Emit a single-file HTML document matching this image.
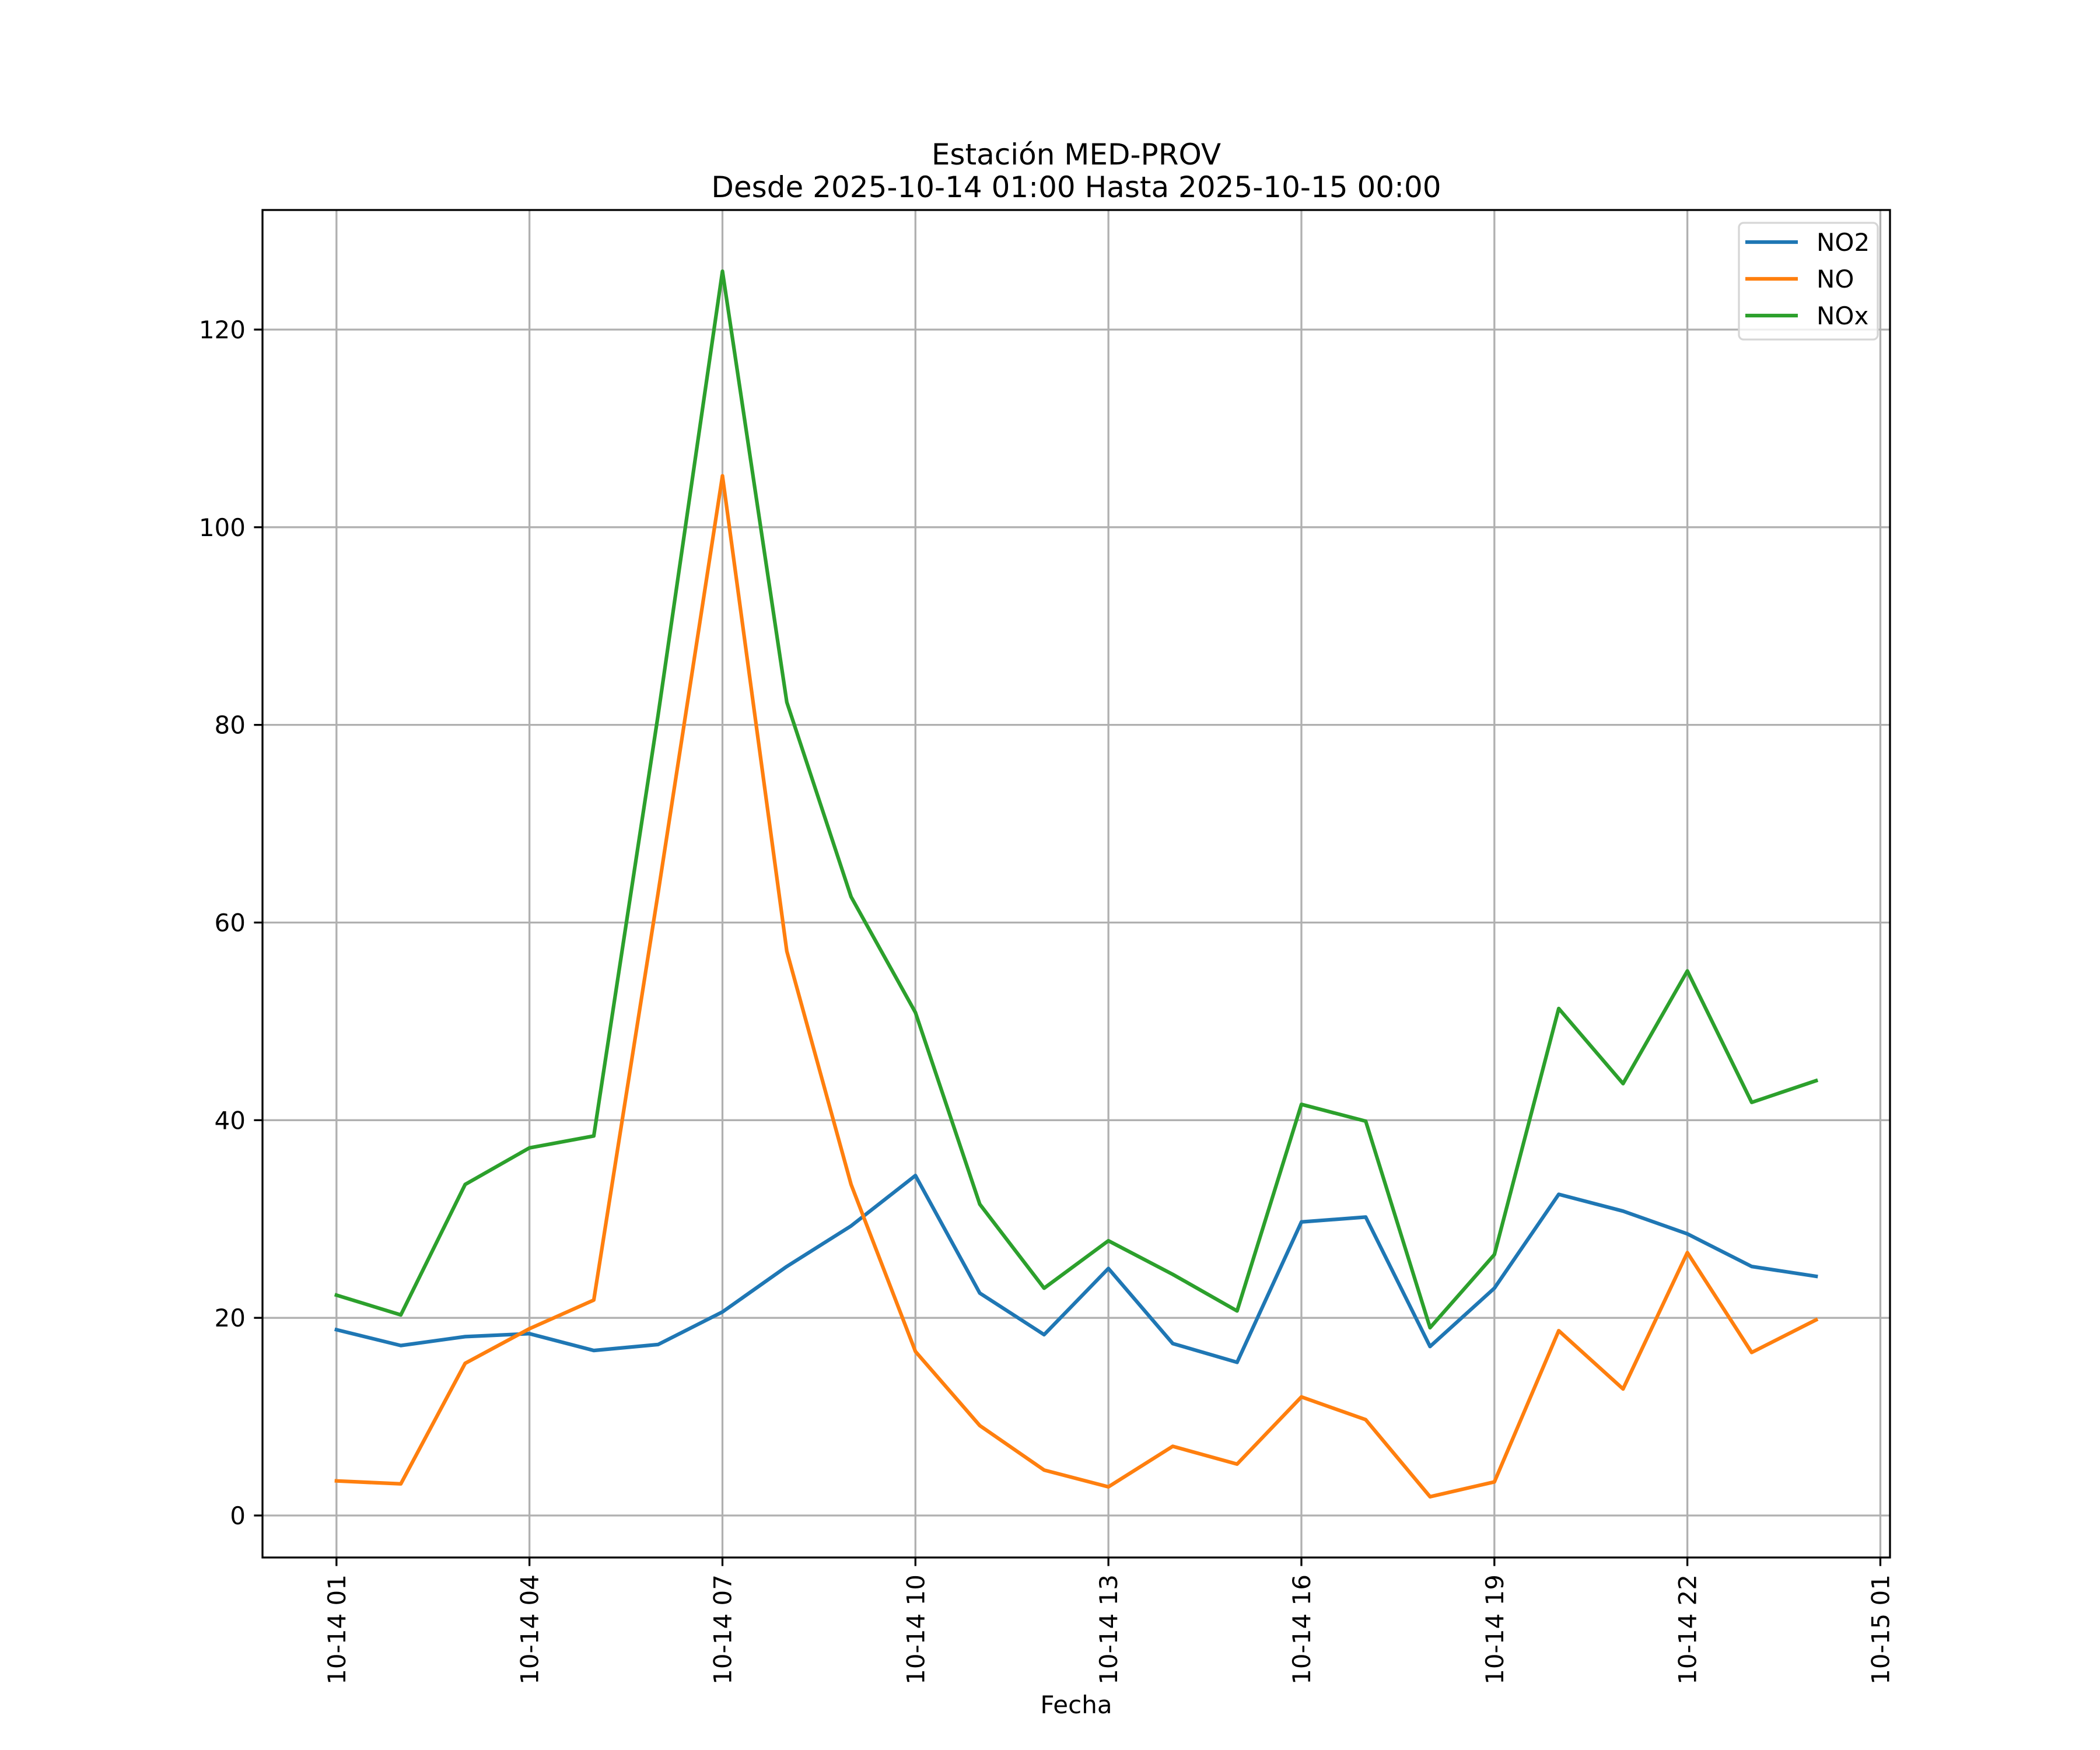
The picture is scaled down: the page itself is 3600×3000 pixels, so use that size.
<!DOCTYPE html>
<html><head><meta charset="utf-8"><style>body{margin:0;background:#fff}svg{display:block}</style></head>
<body>
<svg id="chart" width="3600" height="3000" xmlns="http://www.w3.org/2000/svg" font-family="'DejaVu Sans','Liberation Sans',sans-serif">
<rect width="3600" height="3000" fill="#fff"/>
<g id="grid"></g>
<g id="series"></g>
<rect x="450" y="360" width="2790" height="2310" fill="none" stroke="#000" stroke-width="3.3"/>
<g id="ticks"></g>
<text x="1845" y="282" font-size="50" text-anchor="middle">Estación MED-PROV</text>
<text x="1845" y="338" font-size="50" text-anchor="middle">Desde 2025-10-14 01:00 Hasta 2025-10-15 00:00</text>
<text x="1845" y="2937" font-size="42" text-anchor="middle">Fecha</text>
<g>
<rect x="2981" y="382" width="238" height="200" rx="8" fill="#fff" fill-opacity="0.8" stroke="#d6d6d6" stroke-width="3.3"/>
<line x1="2992" y1="415" x2="3082" y2="415" stroke="#1f77b4" stroke-width="6.25"/>
<text x="3114" y="430" font-size="42">NO2</text>
<line x1="2992" y1="478" x2="3082" y2="478" stroke="#ff7f0e" stroke-width="6.25"/>
<text x="3114" y="493" font-size="42">NO</text>
<line x1="2992" y1="541" x2="3082" y2="541" stroke="#2ca02c" stroke-width="6.25"/>
<text x="3114" y="556" font-size="42">NOx</text>
</g>
</svg>
<script>
const hours = [1,2,3,4,5,6,7,8,9,10,11,12,13,14,15,16,17,18,19,20,21,22,23,24];
const no2 = [18.8,17.2,18.1,18.4,16.7,17.3,20.6,25.2,29.3,34.4,22.5,18.3,25.0,17.4,15.5,29.7,30.2,17.1,23.0,32.5,30.8,28.5,25.2,24.2];
const no = [3.5,3.2,15.4,18.9,21.8,63,105.2,57.1,33.5,16.6,9.1,4.6,2.9,7.0,5.2,12.0,9.7,1.9,3.4,18.7,12.8,26.6,16.5,19.8];
const nox = [22.3,20.3,33.5,37.2,38.4,81,125.9,82.3,62.6,50.9,31.5,23.0,27.8,24.4,20.7,41.6,39.9,19.0,26.4,51.3,43.7,55.1,41.8,44.0];
const xTickHours = [1,4,7,10,13,16,19,22,25];
const xTickLabels = ["10-14 01","10-14 04","10-14 07","10-14 10","10-14 13","10-14 16","10-14 19","10-14 22","10-15 01"];
const yTicks = [0,20,40,60,80,100,120];

const L=450,R=3240,T=360,B=2670;
const xMin=1-1.15, xMax=24+1.15, yMin=-4.25, yMax=132.1;
const sx=h=>L+(h-xMin)/(xMax-xMin)*(R-L);
const sy=v=>B-(v-yMin)/(yMax-yMin)*(B-T);
const NS="http://www.w3.org/2000/svg";
function mk(tag,attrs,parent){const e=document.createElementNS(NS,tag);for(const k in attrs)e.setAttribute(k,attrs[k]);parent.appendChild(e);return e;}
const grid=document.getElementById('grid'),ticks=document.getElementById('ticks'),series=document.getElementById('series');
xTickHours.forEach((h,i)=>{
  const x=sx(h);
  const g=mk('line',{x1:x,y1:T,x2:x,y2:B,stroke:'#b0b0b0','stroke-width':3.3},grid);
  
  
  const t=mk('line',{x1:x,y1:B,x2:x,y2:B+14.6,stroke:'#000','stroke-width':3.3},ticks);
  
  
  const lb=mk('text',{x:0,y:0,'font-size':42,'text-anchor':'end',transform:`translate(${x+15},${B+29}) rotate(-90)`},ticks);
  lb.textContent=xTickLabels[i];
  
  
});
yTicks.forEach(v=>{
  const y=sy(v);
  const g=mk('line',{x1:L,y1:y,x2:R,y2:y,stroke:'#b0b0b0','stroke-width':3.3},grid);
  
  
  const t=mk('line',{x1:L-14.6,y1:y,x2:L,y2:y,stroke:'#000','stroke-width':3.3},ticks);
  
  
  const lb=mk('text',{x:L-29,y:y+15,'font-size':42,'text-anchor':'end'},ticks);
  lb.textContent=String(v);
  
  
});
[[no2,'#1f77b4','line-no2'],[no,'#ff7f0e','line-no'],[nox,'#2ca02c','line-nox']].forEach(([d,c,n])=>{
  const pts=d.map((v,i)=>sx(hours[i]).toFixed(1)+','+sy(v).toFixed(1)).join(' ');
  const p=mk('polyline',{points:pts,fill:'none',stroke:c,'stroke-width':6.25,'stroke-linejoin':'round','stroke-linecap':'square'},series);
  
  
});
</script>
</body></html>
